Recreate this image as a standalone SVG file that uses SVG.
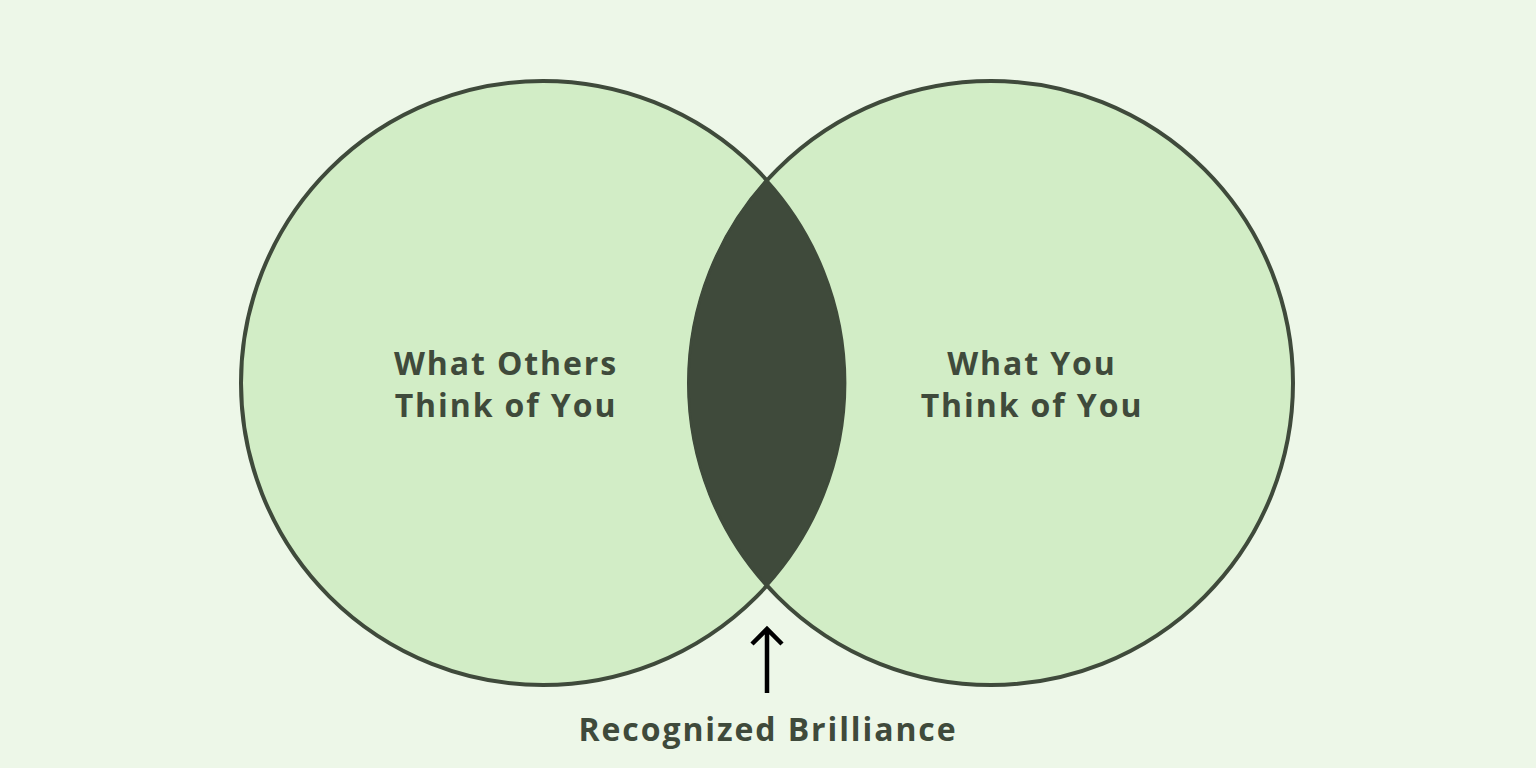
<svg xmlns="http://www.w3.org/2000/svg" width="1536" height="768" viewBox="0 0 1536 768">
<style>
.circ{fill:#d2edc6;stroke:#3f4a3b;stroke-width:4}
.lbl{font-family:"Open Sans","Liberation Sans",sans-serif;font-weight:700;font-size:32px;fill:#3f4a3b;text-anchor:middle;letter-spacing:1.9px}
</style>
<rect width="1536" height="768" fill="#edf7e8"/>
<g id="left-circle">
<circle class="circ" cx="543" cy="383" r="302"/>
</g>
<g id="right-circle">
<circle class="circ" cx="991" cy="383" r="302"/>
</g>
<g id="intersection">
<path d="M767,180 A302,302 0 0 1 767,586 A302,302 0 0 1 767,180 Z" fill="#3f4a3b" stroke="#3f4a3b" stroke-width="2"/>
</g>
<g id="label-left">
<text class="lbl" x="506" y="375">What Others</text>
<text class="lbl" x="506" y="417">Think of You</text>
</g>
<g id="label-right">
<text class="lbl" x="1032" y="375">What You</text>
<text class="lbl" x="1032" y="417">Think of You</text>
</g>
<g id="connectors">
<path d="M767,693 V629 M752,644 L767,629 L782,644" fill="none" stroke="#000" stroke-width="4.5"/>
</g>
<g id="label-bottom">
<text class="lbl" x="768" y="741">Recognized Brilliance</text>
</g>
</svg>
